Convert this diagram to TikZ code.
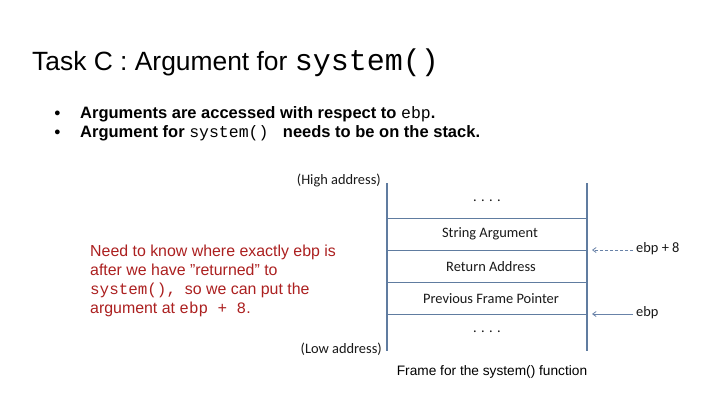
\documentclass[tikz,border=0pt]{standalone}
\usepackage{fontspec}
\setmainfont{Liberation Sans}
\setmonofont{Liberation Mono}
\newfontfamily\calib{Carlito}
\usetikzlibrary{arrows.meta}
\definecolor{stackline}{RGB}{96,124,160}
\definecolor{arrowcol}{RGB}{104,130,168}
\definecolor{notered}{RGB}{172,32,32}
\begin{document}
\begin{tikzpicture}[x=1pt,y=-1pt,
  titlesty/.style={anchor=base west,inner sep=0pt,font=\fontsize{26.4}{32}\selectfont},
  bulletsty/.style={anchor=base west,inner sep=0pt,font=\fontsize{16.5}{20}\selectfont\bfseries},
  dotsty/.style={anchor=base,inner sep=0pt,font=\fontsize{11}{14}\selectfont},
  cellsty/.style={inner sep=0pt,font=\calib\fontsize{14.4}{17}\selectfont,text=black!90},
  addrsty/.style={anchor=east,inner sep=0pt,font=\calib\fontsize{14.4}{17}\selectfont,text=black!90},
  ebpsty/.style={anchor=west,inner xsep=3pt,inner ysep=0pt,font=\calib\fontsize{14.4}{17}\selectfont,text=black!90},
  stackedge/.style={draw=stackline,line width=1.3pt},
  stackrow/.style={draw=stackline,line width=0.9pt},
  ptr/.style={draw=arrowcol,line width=0.8pt,-{Straight Barb[length=3.5pt,width=5pt]}},
  notesty/.style={anchor=north west,inner sep=0pt,align=left,text=notered,font=\fontsize{15.9}{19}\selectfont},
  captionsty/.style={anchor=base,inner sep=0pt,font=\fontsize{13.7}{16}\selectfont}
]
\useasboundingbox (0,0) rectangle (720,405);
\fill[white] (0,0) rectangle (720,405);

% title
\node[titlesty] (title) at (32,70) {Task C : Argument for {\ttfamily\fontsize{30}{32}\selectfont system()}};

% bullets
\node[dotsty] (d1) at (57.5,116.5) {●};
\node[dotsty] (d2) at (57.5,135.5) {●};
\node[bulletsty] (b1) at (80,118) {Arguments are accessed with respect to {\mdseries\ttfamily ebp}.};
\node[bulletsty] (b2) at (80,137) {Argument for {\mdseries\ttfamily system() }\ needs to be on the stack.};

% stack frame
\coordinate (tl) at (387,183);
\coordinate (bl) at (387,351);
\coordinate (tr) at (587,183);
\coordinate (br) at (587,351);
\draw[stackedge] (tl) -- (bl);
\draw[stackedge] (tr) -- (br);
\foreach \yy in {218,250,282,314} {
  \draw[stackrow] (387,\yy) -- (587,\yy);
}
\node[cellsty] (c0) at (487,201) {. . . .};
\node[cellsty] (c1) at (490,234) {String Argument};
\node[cellsty] (c2) at (491,266.5) {Return Address};
\node[cellsty] (c3) at (491,298.5) {Previous Frame Pointer};
\node[cellsty] (c4) at (487,332) {. . . .};

\node[addrsty] (high) at (381,180) {(High address)};
\node[addrsty] (low) at (382,349) {(Low address)};

% pointers
\node[ebpsty] (ebp8) at (633,249) {ebp + 8};
\node[ebpsty] (ebp) at (633,313) {ebp};
\coordinate (p8) at (592,250);
\coordinate (p0) at (592,314);
\draw[ptr,dashed,dash pattern=on 3pt off 2pt] (ebp8.west |- p8) -- (p8);
\draw[ptr] (ebp.west |- p0) -- (p0);

% note
\node[notesty] (note) at (90,245) {Need to know where exactly ebp is\\
after we have "returned" to\\
{\ttfamily system(),}\ \ so we can put the\\
argument at {\ttfamily ebp + 8}.};

% caption
\node[captionsty] (caption) at (492,375) {Frame for the system() function};
\end{tikzpicture}
\end{document}
